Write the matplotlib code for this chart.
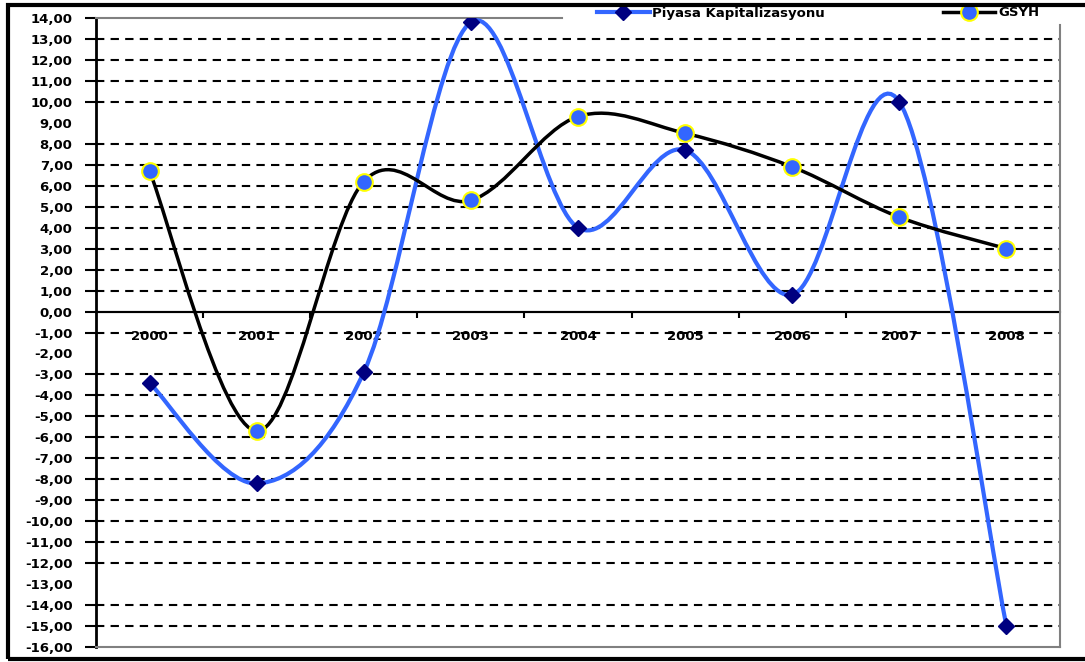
import matplotlib
matplotlib.use("Agg")
import matplotlib.pyplot as plt
import matplotlib.patches as patches
from matplotlib.path import Path
from matplotlib.lines import Line2D
import numpy as np

# data
years = ["2000", "2001", "2002", "2003", "2004", "2005", "2006", "2007", "2008"]
piyasa_kap = [-3.4, -8.2, -2.9, 13.8, 4.0, 7.7, 0.8, 10.0, -15.0]
gsyh = [6.7, -5.7, 6.2, 5.3, 9.3, 8.5, 6.9, 4.5, 3.0]
y_ticks = list(range(-16, 15))
no_grid = [9, -2, -13]

BLUE = "#3366ff"
NAVY = "#000080"


def smooth_path(xs, ys):
    # excel-like smoothed line: catmull-rom as cubic bezier segments
    pts = np.column_stack([xs, ys]).astype(float)
    n = len(pts)
    verts = [pts[0]]
    codes = [Path.MOVETO]
    for i in range(n - 1):
        p0 = pts[i - 1] if i > 0 else pts[i]
        p1 = pts[i]
        p2 = pts[i + 1]
        p3 = pts[i + 2] if i + 2 < n else pts[i + 1]
        c1 = p1 + (p2 - p0) / 6.0
        c2 = p2 - (p3 - p1) / 6.0
        verts += [c1, c2, p2]
        codes += [Path.CURVE4] * 3
    return Path(verts, codes)


fig = plt.figure(figsize=(10.85, 6.62), dpi=100)
ax = fig.add_axes([96 / 1085, 1 - 647 / 662, (1060 - 96) / 1085, (647 - 18) / 662])

x = np.arange(len(years))
ax.set_xlim(-0.5, len(years) - 0.5)
ax.set_ylim(-16, 14)

for v in y_ticks:
    if v in no_grid or v in (14, -16, 0):
        continue
    ax.axhline(v, color="black", lw=1.5, dashes=(4, 3), zorder=1)
ax.axhline(0, color="black", lw=1.5, zorder=1)

ax.add_patch(patches.PathPatch(smooth_path(x, piyasa_kap), fill=False,
                               edgecolor=BLUE, lw=3, zorder=3))
ax.plot(x, piyasa_kap, ls="none", marker="D", ms=8, mfc=NAVY, mec=NAVY, zorder=4)

ax.add_patch(patches.PathPatch(smooth_path(x, gsyh), fill=False,
                               edgecolor="black", lw=2.5, zorder=5))
ax.plot(x, gsyh, ls="none", marker="o", ms=12, mfc=BLUE, mec="yellow", mew=1.5, zorder=6)

# y axis
ax.set_yticks(y_ticks)
ax.set_yticklabels([f"{v},00" for v in y_ticks], fontsize=9.5, fontweight="bold")
ax.tick_params(axis="y", length=8, width=1.5, pad=9, direction="out")
for t, v in zip(ax.yaxis.get_major_ticks(), y_ticks):
    if v in no_grid:
        t.tick1line.set_visible(False)
ax.set_xticks([])

for s in ["top", "right", "bottom"]:
    ax.spines[s].set_color("#808080")
    ax.spines[s].set_linewidth(1.5)
ax.spines["left"].set_linewidth(2)
ax.spines["top"].set_bounds(-0.5, 3.85)
ax.spines["right"].set_bounds(-16, 13.67)

# category axis sits on the zero line
sec = ax.secondary_xaxis(16 / 30)
sec.set_alignment("bottom")
sec.set_xticks(x)
sec.set_xticklabels(years, fontsize=9.5, fontweight="bold")
sec.set_xticks(np.arange(0.5, len(years) - 1, 1.0), minor=True)
sec.tick_params(axis="x", which="major", length=0, pad=13)
sec.tick_params(axis="x", which="minor", length=4, width=1.5, direction="out")
sec.spines["bottom"].set_linewidth(1.5)

handles = [
    Line2D([], [], color=BLUE, lw=3, marker="D", ms=8, mfc=NAVY, mec=NAVY),
    Line2D([], [], color="black", lw=2.5, marker="o", ms=12, mfc=BLUE, mec="yellow", mew=1.5),
]
leg = ax.legend(handles, ["Piyasa Kapitalizasyonu", "GSYH"], ncol=2,
                loc="center left", bbox_to_anchor=(597 / 1085, 1 - 13 / 662),
                bbox_transform=fig.transFigure, frameon=False, borderpad=0,
                borderaxespad=0, handlelength=4.0, handletextpad=0.2,
                columnspacing=8.9, prop={"size": 9.5, "weight": "bold"})

# outer border
fig.add_artist(patches.Rectangle((8 / 1085, 1 - 659 / 662), 1.5, (659 - 5) / 662,
                                 transform=fig.transFigure, fill=False,
                                 edgecolor="black", lw=3, zorder=10))

fig.savefig("out.png", dpi=100)
